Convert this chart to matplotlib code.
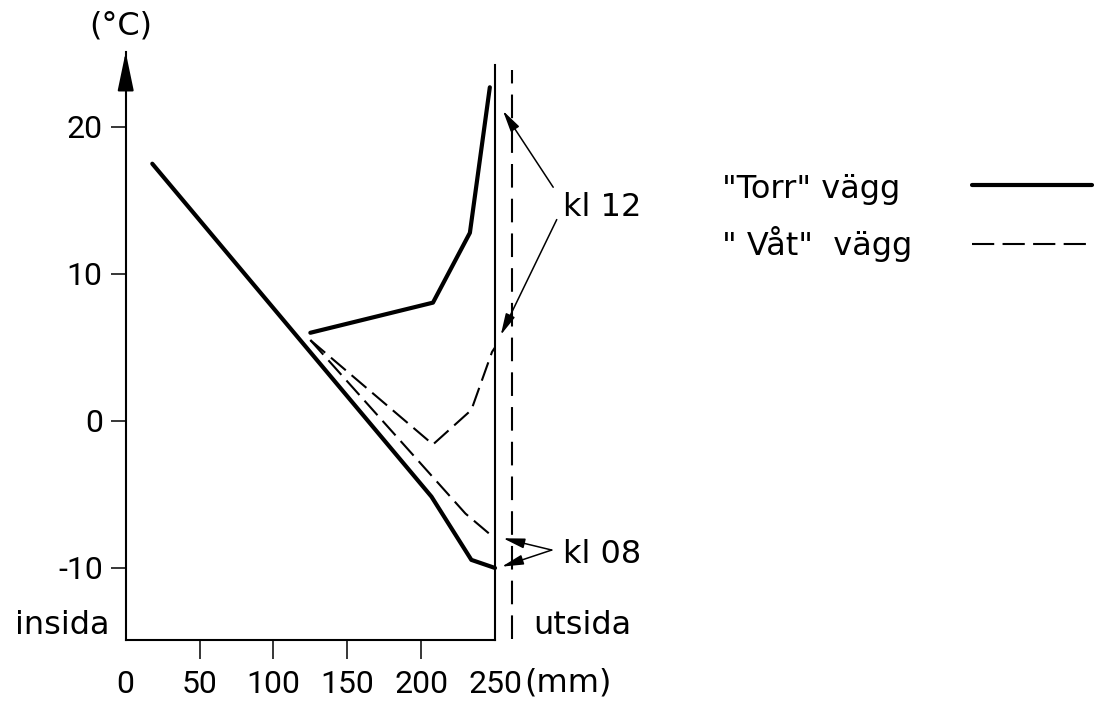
import matplotlib
matplotlib.use("Agg")
import matplotlib.pyplot as plt
from matplotlib.lines import Line2D

plt.rcParams['font.family'] = ['DejaVu Sans']
plt.rcParams['lines.scale_dashes'] = False

# ---- data ----
torr08_x = [18, 207, 234, 250]
torr08_y = [17.5, -5.15, -9.45, -10.0]
torr12_x = [125, 208, 233, 246.5]
torr12_y = [6.0, 8.05, 12.8, 22.7]
vat12_x = [125, 208, 234, 248, 250]
vat12_y = [5.5, -1.6, 0.75, 4.7, 5.0]
vat08_x = [125, 230, 250]
vat08_y = [5.5, -6.3, -8.0]

x_ticks = [0, 50, 100, 150, 200, 250]
y_ticks = [-10, 0, 10, 20]
x_unit = "(mm)"
y_unit = "(°C)"
legend_labels = ['"Torr" vägg', '" Våt"  vägg']
side_labels = ["insida", "utsida"]
outer_x = 261.5
kl12_tips = [(255.4, 21.1), (253.9, 5.85)]
kl12_tails = [(289.4, 15.9), (291.8, 13.7)]
kl08_tips = [(255.5, -7.98), (254.6, -9.91)]
kl08_apex = (288.4, -8.78)

W, H = 1096, 704
FS = 23
DIGITS = ['Roboto', 'DejaVu Sans']


def px(x, y):
    return (x / W, 1 - y / H)


fig = plt.figure(figsize=(W / 100, H / 100), dpi=100)
ax = fig.add_axes([125.7 / W, (H - 640) / H, (495 - 125.7) / W, (640 - 52) / H])
ax.set_xlim(0, 250)
ax.set_ylim(-14.9, 25.1)

for s in ax.spines.values():
    s.set_linewidth(1.5)
ax.spines['top'].set_visible(False)
ax.spines['right'].set_bounds(-14.9, 24.2)

ax.set_xticks(x_ticks)
ax.set_yticks(y_ticks)
ax.set_xticklabels([str(v) for v in x_ticks], family=DIGITS, fontsize=FS)
ax.set_yticklabels([str(v) for v in y_ticks], family=DIGITS, fontsize=FS)
ax.tick_params(axis='x', direction='out', length=13.5, width=1.1, pad=8)
ax.tick_params(axis='y', direction='out', length=10.5, width=1.1, pad=6)
xt = ax.xaxis.get_major_ticks()
xt[0].tick1line.set_visible(False)
xt[-1].tick1line.set_visible(False)

dash_data = (0, (14, 5.5))
ax.plot(torr08_x, torr08_y, color='k', lw=3, solid_capstyle='round', solid_joinstyle='round', clip_on=False)
ax.plot(torr12_x, torr12_y, color='k', lw=3, solid_capstyle='round', solid_joinstyle='round', clip_on=False)
ax.plot(vat12_x, vat12_y, color='k', lw=1.5, linestyle=dash_data, clip_on=False)
ax.plot(vat08_x, vat08_y, color='k', lw=1.5, linestyle=dash_data, clip_on=False)

# outer dashed boundary
ax.plot([outer_x, outer_x], [-14.8, 23.9], color='k', lw=1.5, linestyle=(0, (17, 8)), clip_on=False)

# arrow on y axis
ax.annotate('', xy=(0, 25.1), xytext=(0, 22.6), annotation_clip=False,
            arrowprops=dict(arrowstyle='-|>,head_length=2.4,head_width=0.5', mutation_scale=10,
                            color='k', lw=1.5, shrinkA=0, shrinkB=0))

arrow_kw = dict(arrowstyle='-|>,head_length=1.3,head_width=0.3', mutation_scale=10,
                color='k', lw=1.1, shrinkA=0, shrinkB=0)
for tip, tail in zip(kl12_tips, kl12_tails):
    ax.annotate('', xy=tip, xytext=tail, annotation_clip=False, arrowprops=arrow_kw)
for tip in kl08_tips:
    ax.annotate('', xy=tip, xytext=kl08_apex, annotation_clip=False, arrowprops=arrow_kw)

# texts
fig.text(*px(121, 26), y_unit, fontsize=FS, ha='center', va='center')
fig.text(*px(524, 683), x_unit, fontsize=FS, ha='left', va='center')
fig.text(*px(110, 634), side_labels[0], fontsize=FS, ha='right', va='baseline')
fig.text(*px(533, 634), side_labels[1], fontsize=FS, ha='left', va='baseline')
fig.text(*px(563, 216), "kl 12", fontsize=FS, ha='left', va='baseline')
fig.text(*px(563, 563), "kl 08", fontsize=FS, ha='left', va='baseline')

# legend
fig.text(*px(722, 198), legend_labels[0], fontsize=FS, ha='left', va='baseline')
fig.text(*px(722, 255), legend_labels[1], fontsize=FS, ha='left', va='baseline')
x0, y0 = px(972, 185)
x1, _ = px(1092, 185)
fig.add_artist(Line2D([x0, x1], [y0, y0], transform=fig.transFigure, color='k', lw=3, solid_capstyle='round'))
x0, y0 = px(972, 244)
fig.add_artist(Line2D([x0, x1], [y0, y0], transform=fig.transFigure, color='k', lw=1.5, linestyle=(0, (16, 6))))

fig.savefig("out.png", dpi=100, facecolor='white')
